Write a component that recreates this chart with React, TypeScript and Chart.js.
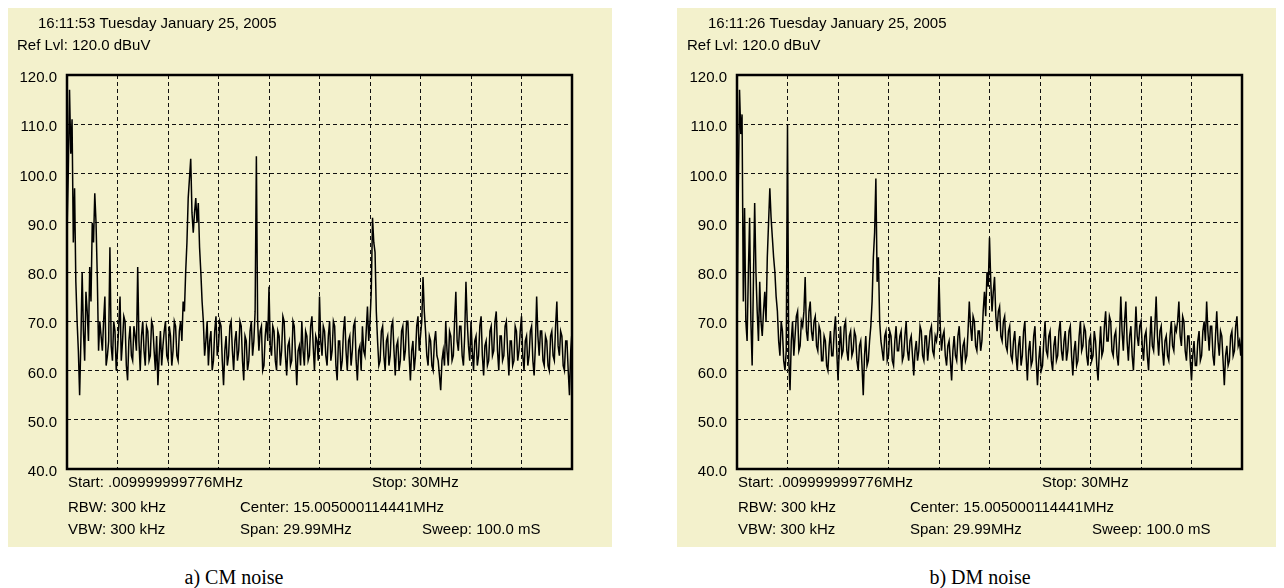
import React, { useEffect, useRef } from "react";
import { Chart, registerables } from "chart.js";

Chart.register(...registerables);

// Sweep grid: 401 points from 0 to 30 MHz
const FREQ_STEP_MHZ = 0.075;
const Y_TICKS = [40, 50, 60, 70, 80, 90, 100, 110, 120];

// CM noise trace (dBuV)
const cmValues = [
  88, 100, 117, 104, 111, 86, 97, 78, 70, 64, 55, 66, 80, 68, 62, 76, 72, 66, 81, 74,
  90, 86, 96, 90, 79, 64, 70, 67, 64, 70, 75, 61, 63, 66, 85, 65, 62, 70, 68, 60,
  64, 69, 75, 62, 66, 71, 70, 61, 58, 66, 69, 63, 62, 69, 67, 64, 81, 66, 60, 67,
  70, 64, 61, 69, 68, 62, 63, 70, 69, 64, 60, 67, 57, 63, 68, 61, 65, 68, 70, 63,
  62, 69, 67, 61, 64, 70, 69, 63, 62, 68, 70, 66, 74, 72, 80, 86, 95, 99, 103, 92,
  88, 92, 95, 90, 94, 85, 80, 74, 70, 63, 66, 70, 61, 66, 68, 60, 62, 68, 71, 63,
  65, 70, 69, 62, 57, 64, 67, 61, 63, 69, 70, 64, 60, 66, 68, 62, 64, 70, 69, 62,
  58, 67, 66, 60, 62, 68, 70, 63, 66, 72, 103.5, 70, 64, 68, 69, 60, 61, 67, 70, 66,
  77, 65, 63, 69, 68, 62, 60, 68, 67, 61, 64, 71, 70, 63, 59, 65, 66, 61, 62, 70,
  69, 63, 57, 64, 65, 61, 70, 64, 61, 68, 67, 62, 63, 69, 71, 65, 60, 67, 66, 62,
  75, 66, 63, 69, 68, 63, 61, 67, 70, 62, 64, 70, 69, 61, 58, 66, 66, 60, 62, 68,
  71, 64, 60, 66, 67, 61, 64, 69, 70, 62, 58, 64, 65, 60, 69, 64, 63, 68, 73, 66,
  70, 76, 91, 86, 84, 72, 66, 61, 62, 68, 69, 63, 60, 66, 67, 61, 63, 69, 70, 64,
  59, 65, 66, 60, 62, 68, 69, 62, 64, 70, 70, 63, 58, 64, 66, 60, 63, 69, 71, 64,
  67, 70, 79, 72, 68, 63, 61, 67, 66, 61, 60, 66, 68, 63, 62, 59, 56, 62, 64, 61,
  70, 64, 61, 68, 67, 62, 63, 70, 76, 66, 64, 69, 69, 63, 61, 67, 78, 70, 65, 62,
  70, 64, 60, 66, 67, 61, 63, 69, 71, 63, 59, 65, 66, 61, 62, 68, 69, 63, 64, 70,
  72, 64, 60, 67, 67, 62, 63, 69, 70, 64, 59, 66, 66, 61, 62, 69, 68, 62, 64, 68,
  71, 63, 60, 66, 67, 61, 63, 68, 69, 62, 59, 65, 75, 67, 63, 68, 68, 62, 61, 67,
  66, 61, 60, 67, 68, 63, 62, 69, 74, 65, 63, 68, 67, 61, 60, 66, 66, 60, 55, 64,
  68,
];

// DM noise trace (dBuV)
const dmValues = [
  65, 96, 117, 108, 112, 74, 93, 70, 66, 80, 91, 70, 61, 78, 94, 80, 72, 66, 78, 70,
  67, 72, 76, 70, 83, 90, 97, 91, 87, 83, 80, 75, 72, 66, 63, 70, 68, 62, 60, 64,
  110, 62, 56, 66, 70, 63, 67, 71, 72, 64, 65, 70, 69, 72, 79, 68, 66, 72, 74, 68,
  66, 70, 71, 65, 64, 69, 68, 62, 62, 67, 66, 61, 60, 65, 68, 63, 63, 68, 71, 64,
  58, 64, 69, 63, 64, 69, 70, 64, 62, 67, 68, 63, 64, 68, 67, 62, 60, 65, 66, 61,
  55, 63, 67, 61, 62, 66, 69, 74, 83, 88, 99, 78, 83, 70, 66, 64, 62, 67, 68, 62,
  63, 68, 67, 62, 61, 66, 69, 64, 64, 67, 68, 62, 63, 67, 70, 64, 62, 66, 67, 63,
  59, 64, 66, 62, 64, 69, 68, 63, 62, 67, 67, 62, 65, 68, 69, 64, 63, 67, 66, 68,
  79, 69, 64, 67, 68, 63, 61, 65, 66, 62, 58, 64, 67, 63, 62, 67, 69, 64, 60, 65,
  66, 62, 63, 68, 74, 69, 66, 71, 70, 65, 64, 68, 68, 64, 66, 72, 76, 71, 80, 77,
  87, 78, 72, 76, 79, 71, 68, 72, 73, 67, 66, 70, 71, 65, 64, 68, 69, 63, 62, 66,
  68, 63, 60, 65, 67, 61, 63, 68, 70, 63, 58, 64, 66, 61, 62, 67, 69, 62, 57, 62,
  65, 60, 61, 66, 70, 64, 63, 67, 68, 62, 60, 65, 67, 62, 63, 68, 70, 64, 62, 66,
  68, 62, 64, 68, 69, 63, 59, 64, 66, 61, 62, 67, 70, 64, 65, 69, 68, 63, 61, 66,
  67, 62, 63, 68, 66, 61, 58, 64, 69, 63, 64, 69, 72, 66, 66, 71, 70, 64, 63, 67,
  68, 63, 61, 67, 75, 68, 64, 70, 74, 66, 62, 67, 69, 63, 60, 66, 73, 67, 65, 69,
  70, 65, 62, 67, 68, 63, 60, 66, 71, 65, 64, 69, 75, 67, 63, 68, 69, 64, 61, 66,
  67, 63, 62, 67, 70, 65, 64, 69, 68, 70, 74, 67, 65, 71, 70, 64, 62, 67, 67, 62,
  58, 63, 66, 61, 61, 66, 68, 62, 63, 68, 70, 66, 74, 68, 64, 69, 69, 63, 61, 67,
  72, 66, 63, 68, 67, 62, 57, 63, 65, 61, 62, 67, 68, 63, 64, 69, 71, 65, 66, 63,
  68,
];

const BG = "#F3F1CC";
const FONT = "'Liberation Sans', Arial, sans-serif";

type PanelInfo = {
  time: string;
  ref: string;
  start: string;
  stop: string;
  rbw: string;
  center: string;
  vbw: string;
  span: string;
  sweep: string;
};

const cmInfo: PanelInfo = {
  time: "16:11:53 Tuesday January 25, 2005",
  ref: "Ref Lvl: 120.0 dBuV",
  start: "Start: .009999999776MHz",
  stop: "Stop: 30MHz",
  rbw: "RBW: 300 kHz",
  center: "Center: 15.005000114441MHz",
  vbw: "VBW: 300 kHz",
  span: "Span: 29.99MHz",
  sweep: "Sweep: 100.0 mS",
};

const dmInfo: PanelInfo = { ...cmInfo, time: "16:11:26 Tuesday January 25, 2005" };

function Panel(props: {
  values: number[];
  info: PanelInfo;
  width: number;
  height: number;
  left: number;
  plotLeft: number;
}) {
  const ref = useRef<HTMLCanvasElement | null>(null);
  useEffect(() => {
    const canvas = ref.current!;
    const { values, info, plotLeft, width } = props;
    const plotRight = plotLeft + 505;
    const panelPlugin = {
      id: "panel",
      beforeDraw(chart: any) {
        const ctx = chart.ctx;
        ctx.save();
        ctx.fillStyle = BG;
        ctx.fillRect(0, 0, chart.width, chart.height);
        ctx.restore();
      },
      afterDatasetsDraw(chart: any) {
        const ctx = chart.ctx;
        const a = chart.chartArea;
        ctx.save();
        ctx.strokeStyle = "#000";
        ctx.lineWidth = 2.5;
        ctx.strokeRect(a.left, a.top, a.right - a.left, a.bottom - a.top);
        ctx.fillStyle = "#000";
        ctx.font = "15px " + FONT;
        ctx.textBaseline = "middle";
        ctx.textAlign = "left";
        ctx.fillText(info.time, a.left - 29, a.top - 51);
        ctx.fillText(info.ref, a.left - 50, a.top - 29);
        ctx.fillText(info.start, a.left + 1, a.bottom + 14);
        ctx.fillText(info.stop, a.left + 305, a.bottom + 14);
        ctx.fillText(info.rbw, a.left + 1, a.bottom + 39);
        ctx.fillText(info.center, a.left + 173, a.bottom + 39);
        ctx.fillText(info.vbw, a.left + 1, a.bottom + 61);
        ctx.fillText(info.span, a.left + 173, a.bottom + 61);
        ctx.fillText(info.sweep, a.left + 355, a.bottom + 61);
        ctx.restore();
      },
    };
    const chart = new Chart(canvas, {
      type: "line",
      data: {
        datasets: [
          {
            data: values.map((v, i) => ({ x: i * FREQ_STEP_MHZ, y: v })),
            borderColor: "#000",
            borderWidth: 1.5,
            pointRadius: 0,
            tension: 0,
            fill: false,
          },
        ],
      },
      options: {
        responsive: false,
        animation: false,
        devicePixelRatio: 1,
        layout: { padding: { left: 0, top: 67, right: width - plotRight, bottom: 0 } },
        plugins: { legend: { display: false }, tooltip: { enabled: false } },
        scales: {
          x: {
            type: "linear",
            min: 0,
            max: 30,
            ticks: { display: false, stepSize: 3 },
            grid: { color: "#111", lineWidth: 1, drawTicks: false },
            border: { display: false, dash: [4, 3] },
            afterFit: (s: any) => {
              s.height = 78;
            },
          },
          y: {
            min: 40,
            max: 120,
            afterBuildTicks: (s: any) => {
              s.ticks = Y_TICKS.map((v) => ({ value: v }));
            },
            ticks: {
              color: "#000",
              font: { size: 15, family: FONT },
              padding: 10,
              labelOffset: 3,
              callback: (v: any) => Number(v).toFixed(1),
            },
            grid: { color: "#111", lineWidth: 1, drawTicks: false },
            border: { display: false, dash: [4, 3] },
            afterFit: (s: any) => {
              s.width = plotLeft;
            },
          },
        },
      },
      plugins: [panelPlugin],
    } as any);
    return () => chart.destroy();
  }, []);
  return (
    <canvas
      ref={ref}
      width={props.width}
      height={props.height}
      style={{
        position: "absolute",
        left: props.left,
        top: 0,
        width: props.width,
        height: props.height,
      }}
    />
  );
}

const captionStyle: React.CSSProperties = {
  position: "absolute",
  top: 559,
  width: 200,
  height: 20,
  lineHeight: "20px",
  textAlign: "center",
  fontFamily: "'Liberation Serif', 'Times New Roman', serif",
  fontSize: 20,
  color: "#000",
  whiteSpace: "nowrap",
};

export default function App() {
  useEffect(() => {
    document.documentElement.style.overflow = "hidden";
    document.body.style.overflow = "hidden";
  }, []);
  return (
    <div style={{ position: "relative", width: 1276, height: 580 }}>
      <Panel values={cmValues} info={cmInfo} width={604} height={539} left={0} plotLeft={59} />
      <Panel values={dmValues} info={dmInfo} width={607} height={539} left={669} plotLeft={60} />
      <div style={{ ...captionStyle, left: 226 - 100 }}>a) CM noise</div>
      <div style={{ ...captionStyle, left: 972 - 100 }}>b) DM noise</div>
    </div>
  );
}
